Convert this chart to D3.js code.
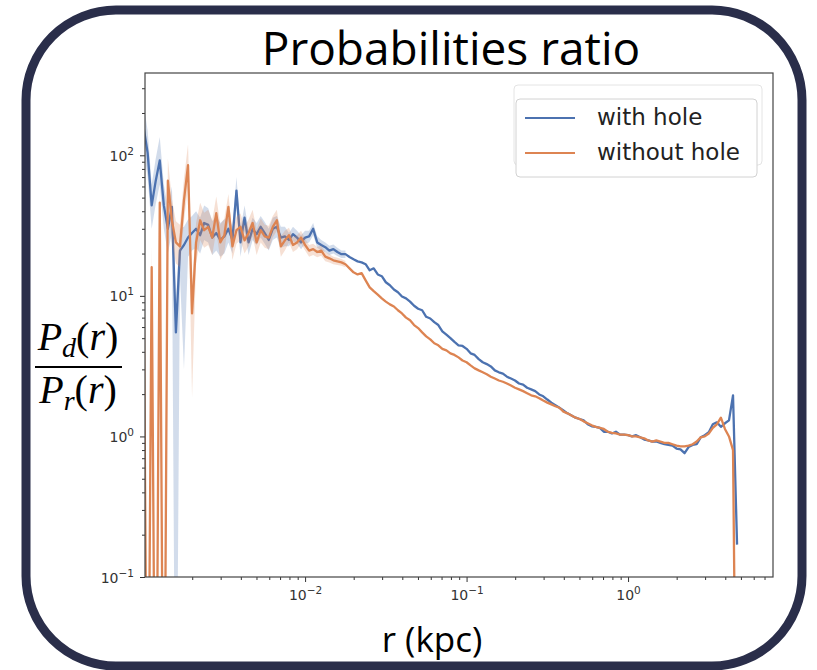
<!DOCTYPE html>
<html>
<head>
<meta charset="utf-8">
<script src="https://cdn.jsdelivr.net/npm/d3@7"></script>
<style>
  body { margin: 0; background: #fff; }
  svg { display: block; }
</style>
</head>
<body>
<svg id="chart" width="817" height="670"></svg>
<script>
// Radial bins (kpc), log-spaced, 40 bins per decade
const radius = [
  0.001, 0.001059, 0.001122, 0.001189, 0.001259, 0.001334, 0.001413, 0.001496, 0.001585, 0.001679,
  0.001778, 0.001884, 0.001995, 0.002113, 0.002239, 0.002371, 0.002512, 0.002661, 0.002818, 0.002985,
  0.003162, 0.00335, 0.003548, 0.003758, 0.003981, 0.004217, 0.004467, 0.004732, 0.005012, 0.005309,
  0.005623, 0.005957, 0.00631, 0.006683, 0.007079, 0.007499, 0.007943, 0.008414, 0.008913, 0.009441,
  0.01, 0.01059, 0.01122, 0.01189, 0.01259, 0.01334, 0.01413, 0.01496, 0.01585, 0.01679,
  0.01778, 0.01884, 0.01995, 0.02113, 0.02239, 0.02371, 0.02512, 0.02661, 0.02818, 0.02985,
  0.03162, 0.0335, 0.03548, 0.03758, 0.03981, 0.04217, 0.04467, 0.04732, 0.05012, 0.05309,
  0.05623, 0.05957, 0.0631, 0.06683, 0.07079, 0.07499, 0.07943, 0.08414, 0.08913, 0.09441,
  0.1, 0.1059, 0.1122, 0.1189, 0.1259, 0.1334, 0.1413, 0.1496, 0.1585, 0.1679,
  0.1778, 0.1884, 0.1995, 0.2113, 0.2239, 0.2371, 0.2512, 0.2661, 0.2818, 0.2985,
  0.3162, 0.335, 0.3548, 0.3758, 0.3981, 0.4217, 0.4467, 0.4732, 0.5012, 0.5309,
  0.5623, 0.5957, 0.631, 0.6683, 0.7079, 0.7499, 0.7943, 0.8414, 0.8913, 0.9441,
  1.0, 1.059, 1.122, 1.189, 1.259, 1.334, 1.413, 1.496, 1.585, 1.679,
  1.778, 1.884, 1.995, 2.113, 2.239, 2.371, 2.512, 2.661, 2.818, 2.985,
  3.162, 3.35, 3.548, 3.758, 3.981, 4.217, 4.467, 4.732
];

// P_d(r) / P_r(r), with the central hole
const withHole = [
  158, 104, 44, 66, 92, 44, 30, 43, 5.5, 21,
  23, 26, 28, 30, 27, 33, 32, 26, 28, 25,
  26.5, 30, 25, 56, 24, 36, 24, 30, 27.5, 31,
  28, 25, 30, 31, 26, 26.5, 25, 27.5, 26, 24,
  26, 26.5, 30, 24, 23, 22.2, 21, 21.5, 20.5, 19.8,
  19.8, 18.9, 18.2, 17.6, 17.3, 16.8, 15.2, 15.7, 14.2, 13.8,
  12.5, 11.9, 11.1, 10.6, 9.9, 9.6, 9.1, 8.5, 8.1, 7.9,
  7.1, 6.9, 6.5, 6.2, 5.6, 5.3, 5.0, 4.7, 4.45, 4.4,
  4.2, 3.9, 3.8, 3.55, 3.37, 3.27, 3.15, 2.95, 2.86, 2.8,
  2.66, 2.58, 2.5, 2.38, 2.34, 2.22, 2.16, 2.1, 1.99, 1.93,
  1.83, 1.74, 1.67, 1.6, 1.53, 1.46, 1.41, 1.36, 1.33, 1.3,
  1.22, 1.18, 1.17, 1.15, 1.08, 1.08, 1.05, 1.08, 1.03, 1.03,
  1.02, 1.0, 1.02, 0.985, 0.95, 0.937, 0.92, 0.92, 0.9, 0.88,
  0.87, 0.86, 0.82, 0.81, 0.76, 0.84, 0.87, 0.88, 0.985, 1.02,
  1.07, 1.22, 1.26, 1.17, 1.24, 1.3, 1.96, 0.17
];

// P_d(r) / P_r(r), without the hole (0 = empty bin)
const withoutHole = [
  15, 0, 16, 0, 46, 0, 66, 34.5, 24, 22.5,
  48, 85, 7.5, 24, 34.5, 29.3, 31, 26, 38.7, 24,
  27, 43, 22.5, 29.3, 31, 24.8, 28, 33, 24, 29.3,
  26.5, 26, 31, 34.5, 22.5, 24.8, 27, 23, 24, 26,
  23, 21, 21.5, 20.5, 21, 19, 18.5, 17.9, 17.6, 17.3,
  16.8, 15.7, 14.7, 14.2, 14.5, 12.9, 11.5, 10.8, 10.2, 9.6,
  9.1, 8.7, 8.4, 7.9, 7.5, 7.0, 6.7, 6.2, 5.9, 5.5,
  5.15, 4.9, 4.6, 4.45, 4.2, 4.1, 3.9, 3.8, 3.65, 3.47,
  3.37, 3.2, 3.05, 2.95, 2.86, 2.77, 2.66, 2.58, 2.5, 2.45,
  2.38, 2.3, 2.22, 2.16, 2.1, 2.03, 1.96, 1.93, 1.87, 1.8,
  1.74, 1.69, 1.64, 1.6, 1.5, 1.46, 1.41, 1.36, 1.33, 1.28,
  1.24, 1.2, 1.17, 1.15, 1.13, 1.08, 1.06, 1.05, 1.03, 1.03,
  1.02, 1.0, 1.0, 0.985, 0.97, 0.937, 0.92, 0.937, 0.92, 0.9,
  0.9, 0.88, 0.86, 0.85, 0.85, 0.86, 0.88, 0.92, 0.985, 1.0,
  1.05, 1.15, 1.22, 1.36, 1.13, 1.0, 0.8, 0
];

// Confidence band over the inner bins (lower / upper bounds)
const withHoleLo = [
  110, 70, 30, 45, 62, 30, 20, 28, 0, 14,
  3, 19, 21, 22, 20, 25, 24, 19.5, 21, 19,
  20, 24, 20, 42, 19, 29, 19.5, 25, 23, 26,
  23.5, 21, 25, 26, 22, 22.5, 22.5, 24.5, 23.5, 21.5,
  23.5, 24, 27, 22, 21, 20.5, 19.5, 20, 19.2, 18.6,
  18.6
];
const withHoleHi = [
  230, 150, 62, 95, 135, 62, 42, 60, 9, 30,
  31, 35, 37, 40, 36, 44, 42, 34, 37, 33,
  35, 37, 31, 70, 30, 44, 29.5, 36, 33, 37,
  33.5, 30, 36, 37, 31, 31, 28, 31, 29, 27,
  29, 29, 33, 26.5, 25, 24, 22.7, 23.2, 22, 21,
  21
];
const withoutHoleLo = [
  10, 0, 11, 0, 32, 0, 46, 24, 17, 16,
  34, 60, 1.9, 17, 25, 22, 23, 19.5, 29, 18,
  20.5, 34, 18, 23.5, 25, 20, 22.5, 26.5, 19.5, 24,
  22, 21.5, 26, 29, 19, 21, 24, 20.5, 21.5, 23.5,
  21, 19, 19.5, 18.8, 19.3, 17.6, 17.3, 16.8, 16.6, 16.4,
  16
];
const withoutHoleHi = [
  22, 0, 23, 0, 66, 0, 95, 49, 34, 32,
  68, 120, 12, 33, 46, 39, 41, 34.5, 51, 32,
  35.5, 53, 28, 36.5, 38.5, 31, 35, 41, 29.5, 35.5,
  32, 31.5, 37, 41, 26.5, 29, 30.5, 26, 27, 29,
  25.5, 23, 23.5, 22.3, 22.8, 20.5, 19.8, 19, 18.7, 18.3,
  17.7
];

const seriesNames = ["with hole", "without hole"];
const seriesColors = ["#4c72b0", "#dd8452"];

const xTicks = [0.01, 0.1, 1];
const xTickExp = ["\u22122", "\u22121", "0"];
const yTicks = [0.1, 1, 10, 100];
const yTickExp = ["\u22121", "0", "1", "2"];

const svg = d3.select("#chart");
const plot = { left: 145, right: 773, top: 73, bottom: 577 };

const x = d3.scaleLog().domain([0.00102, 7.9]).range([plot.left, plot.right]);
const y = d3.scaleLog().domain([0.1, 385]).range([plot.bottom, plot.top]);

// Empty bins fall off the bottom of the log axis
const floorVal = 1e-3;
const yv = v => y(Math.max(v, floorVal));

// Outer rounded frame
svg.append("rect")
  .attr("x", 26).attr("y", 10)
  .attr("width", 776).attr("height", 656)
  .attr("rx", 90).attr("ry", 90)
  .attr("fill", "#fff")
  .attr("stroke", "#2a2e4a")
  .attr("stroke-width", 9);

// Title
svg.append("text")
  .attr("x", 451).attr("y", 65)
  .attr("text-anchor", "middle")
  .attr("font-family", "'Open Sans', sans-serif")
  .attr("font-size", 46)
  .attr("fill", "#000")
  .text("Probabilities ratio");

svg.append("defs").append("clipPath").attr("id", "plot-clip")
  .append("rect")
  .attr("x", plot.left).attr("y", plot.top)
  .attr("width", plot.right - plot.left).attr("height", plot.bottom - plot.top);

const dataG = svg.append("g").attr("clip-path", "url(#plot-clip)");

const series = [
  { vals: withHole, lo: withHoleLo, hi: withHoleHi },
  { vals: withoutHole, lo: withoutHoleLo, hi: withoutHoleHi }
];

const area = d3.area()
  .x(d => x(d.r))
  .y0(d => yv(d.lo))
  .y1(d => yv(d.hi));

const line = d3.line()
  .x(d => x(d.r))
  .y(d => yv(d.v));

series.forEach((s, i) => {
  const band = s.lo.map((lo, k) => ({ r: radius[k], lo: lo, hi: s.hi[k] }));
  dataG.append("path")
    .datum(band)
    .attr("d", area)
    .attr("fill", seriesColors[i])
    .attr("fill-opacity", 0.25)
    .attr("stroke", "none");
  const pts = s.vals.map((v, k) => ({ r: radius[k], v: v }));
  dataG.append("path")
    .datum(pts)
    .attr("d", line)
    .attr("fill", "none")
    .attr("stroke", seriesColors[i])
    .attr("stroke-width", 2.3)
    .attr("stroke-linejoin", "round");
});

// Minor tick values
const minorX = [];
[0.001, 0.01, 0.1, 1].forEach(d => {
  for (let m = 2; m <= 9; m++) {
    const v = d * m;
    if (v > x.domain()[0] && v < x.domain()[1]) minorX.push(v);
  }
});
const minorY = [];
[0.1, 1, 10, 100].forEach(d => {
  for (let m = 2; m <= 9; m++) {
    const v = d * m;
    if (v < y.domain()[1]) minorY.push(v);
  }
});

const tickColor = "#333";

function styleAxis(g) {
  g.select(".domain").remove();
  g.selectAll(".tick line").attr("stroke", tickColor).attr("stroke-width", 1);
}

const xAxisG = svg.append("g").attr("transform", `translate(0,${plot.bottom})`);
xAxisG.append("g").call(d3.axisBottom(x).tickValues(minorX).tickSize(3).tickFormat("")).call(styleAxis);
const xMaj = xAxisG.append("g").call(d3.axisBottom(x).tickValues(xTicks).tickSize(5).tickFormat("")).call(styleAxis);
xMaj.selectAll(".tick").each(function (d, i) {
  const t = d3.select(this).append("text")
    .attr("y", 23)
    .attr("text-anchor", "middle")
    .attr("font-family", "'DejaVu Sans', sans-serif")
    .attr("font-size", 14)
    .attr("fill", tickColor);
  t.append("tspan").text("10");
  t.append("tspan").attr("font-size", 10.5).attr("dy", -6).text(xTickExp[i]);
});

const yAxisG = svg.append("g").attr("transform", `translate(${plot.left},0)`);
yAxisG.append("g").call(d3.axisLeft(y).tickValues(minorY).tickSize(3).tickFormat("")).call(styleAxis);
const yMaj = yAxisG.append("g").call(d3.axisLeft(y).tickValues(yTicks).tickSize(5).tickFormat("")).call(styleAxis);
yMaj.selectAll(".tick").each(function (d, i) {
  const t = d3.select(this).append("text")
    .attr("x", -11)
    .attr("y", 5)
    .attr("text-anchor", "end")
    .attr("font-family", "'DejaVu Sans', sans-serif")
    .attr("font-size", 14)
    .attr("fill", tickColor);
  t.append("tspan").text("10");
  t.append("tspan").attr("font-size", 10.5).attr("dy", -6).text(yTickExp[i]);
});

// Axes box
svg.append("rect")
  .attr("x", plot.left).attr("y", plot.top)
  .attr("width", plot.right - plot.left).attr("height", plot.bottom - plot.top)
  .attr("fill", "none")
  .attr("stroke", "#444")
  .attr("stroke-width", 1.2);

// Legend (a faint earlier legend frame sits behind it)
svg.append("rect")
  .attr("x", 514).attr("y", 85).attr("width", 248).attr("height", 80)
  .attr("rx", 4).attr("fill", "#fff").attr("stroke", "#e4e4e4").attr("stroke-width", 1);
const legend = svg.append("g");
legend.append("rect")
  .attr("x", 516).attr("y", 99).attr("width", 241).attr("height", 78)
  .attr("rx", 4).attr("fill", "#fff").attr("stroke", "#d2d2d2").attr("stroke-width", 1);
seriesNames.forEach((name, i) => {
  const ly = 118 + i * 35;
  legend.append("line")
    .attr("x1", 525).attr("x2", 575).attr("y1", ly).attr("y2", ly)
    .attr("stroke", seriesColors[i]).attr("stroke-width", 2);
  legend.append("text")
    .attr("x", 597).attr("y", ly + 7)
    .attr("font-family", "'DejaVu Sans', sans-serif")
    .attr("font-size", 23)
    .attr("fill", "#222")
    .text(name);
});

// Axis titles
svg.append("text")
  .attr("x", 432).attr("y", 652)
  .attr("text-anchor", "middle")
  .attr("font-family", "'Open Sans', sans-serif")
  .attr("font-size", 35)
  .attr("fill", "#000")
  .text("r (kpc)");

const fracX = 78;
function fracPart(yb, sub) {
  const t = svg.append("text")
    .attr("x", fracX).attr("y", yb)
    .attr("text-anchor", "middle")
    .attr("font-family", "'Liberation Serif', serif")
    .attr("font-size", 40)
    .attr("fill", "#000");
  t.append("tspan").attr("font-style", "italic").text("P");
  t.append("tspan").attr("font-style", "italic").attr("font-size", 28).attr("dy", 7).text(sub);
  t.append("tspan").attr("dy", -7).text("(");
  t.append("tspan").attr("font-style", "italic").text("r");
  t.append("tspan").text(")");
}
fracPart(350, "d");
fracPart(403, "r");
svg.append("line")
  .attr("x1", 35).attr("x2", 122).attr("y1", 367).attr("y2", 367)
  .attr("stroke", "#000").attr("stroke-width", 2);
</script>
</body>
</html>
